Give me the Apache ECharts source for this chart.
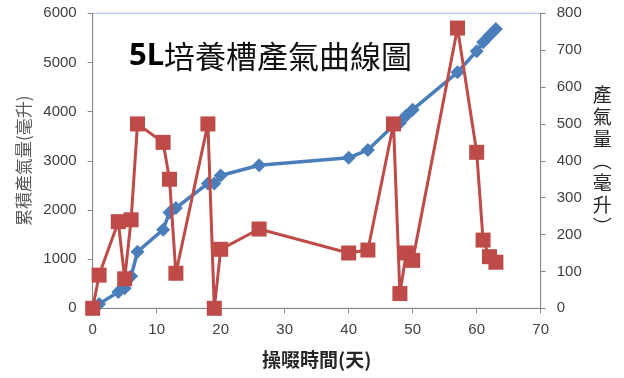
<!DOCTYPE html>
<html>
<head>
<meta charset="utf-8">
<script src="https://cdn.jsdelivr.net/npm/echarts@6/dist/echarts.min.js"></script>
<style>
html, body { margin: 0; padding: 0; background: #fff; }
#chart { width: 624px; height: 378px; }
</style>
</head>
<body>
<div id="chart"></div>
<script>
// Operating days (x axis)
const days = [0, 1, 4, 5, 6, 7, 11, 12, 13, 18, 19, 20, 26, 40, 43, 47, 48, 49, 50, 57, 60, 61, 62, 63];
// Cumulative gas volume (mL), left axis
const cumulativeGas = [0, 90, 330, 410, 650, 1150, 1600, 1950, 2040, 2540, 2540, 2700, 2910, 3060, 3220, 3720, 3770, 3920, 4040, 4800, 5230, 5410, 5550, 5680];
// Gas produced per measurement (mL), right axis
const gasOutput = [0, 90, 235, 80, 240, 500, 450, 350, 95, 500, 0, 160, 215, 150, 158, 500, 40, 150, 130, 760, 423, 185, 140, 125];

const xTicks = { min: 0, max: 70, interval: 10 };
const leftTicks = { min: 0, max: 6000, interval: 1000 };
const rightTicks = { min: 0, max: 800, interval: 100 };

const pairs = (xs, ys) => xs.map((x, i) => [x, ys[i]]);
const plain = v => String(v);

const axisGrey = '#868686';
const labelStyle = { color: '#404040', fontSize: 15, fontFamily: 'Liberation Sans, Arial, sans-serif', formatter: plain };
const cjk = '"Noto Sans CJK TC", "Noto Sans CJK SC", sans-serif';

const chart = echarts.init(document.getElementById('chart'), null, { renderer: 'canvas' });
chart.setOption({
  animation: false,
  backgroundColor: '#ffffff',
  title: {
    text: '{a|5L}{b|培養槽產氣曲線圖}',
    left: 124,
    top: 36,
    textStyle: {
      rich: {
        a: { fontFamily: '"Noto Sans", sans-serif', fontWeight: 'bold', fontSize: 31, color: '#000' },
        b: { fontFamily: cjk, fontWeight: 'normal', fontSize: 31, color: '#111' }
      }
    }
  },
  grid: {
    left: 92.7, right: 83.3, top: 13.3, bottom: 69.7,
    show: true, borderColor: '#9BB7DA', borderWidth: 1, backgroundColor: 'transparent'
  },
  xAxis: {
    type: 'value',
    min: xTicks.min, max: xTicks.max, interval: xTicks.interval,
    name: '操啜時間(天)',
    nameLocation: 'middle',
    nameGap: 42,
    nameTextStyle: { fontFamily: cjk, fontSize: 19, fontWeight: 'bold', color: '#262626' },
    axisLine: { show: true, onZero: false, lineStyle: { color: axisGrey, width: 1 } },
    axisTick: { show: true, length: 5, lineStyle: { color: axisGrey } },
    axisLabel: Object.assign({ margin: 14 }, labelStyle),
    splitLine: { show: false }
  },
  yAxis: [
    {
      type: 'value',
      position: 'left',
      min: leftTicks.min, max: leftTicks.max, interval: leftTicks.interval,
      name: '累積產氣量(毫升)',
      nameLocation: 'middle',
      nameRotate: 90,
      nameGap: 57,
      nameTextStyle: { fontFamily: cjk, fontSize: 17, color: '#595959' },
      axisLine: { show: true, lineStyle: { color: axisGrey, width: 1 } },
      axisTick: { show: true, length: 5, lineStyle: { color: axisGrey } },
      axisLabel: Object.assign({ margin: 16 }, labelStyle),
      splitLine: { show: false }
    },
    {
      type: 'value',
      position: 'right',
      min: rightTicks.min, max: rightTicks.max, interval: rightTicks.interval,
      name: '產\n氣\n量\n︵\n毫\n升\n︶',
      nameLocation: 'middle',
      nameRotate: 0,
      nameGap: 52,
      nameTextStyle: { fontFamily: cjk, fontSize: 19, lineHeight: 22, color: '#262626', align: 'left' },
      axisLine: { show: true, lineStyle: { color: axisGrey, width: 1 } },
      axisTick: { show: true, length: 5, lineStyle: { color: axisGrey } },
      axisLabel: Object.assign({ margin: 16 }, labelStyle),
      splitLine: { show: false }
    }
  ],
  series: [
    {
      name: '累積產氣量',
      type: 'line',
      yAxisIndex: 0,
      data: pairs(days, cumulativeGas),
      clip: false,
      symbol: 'diamond',
      symbolSize: 14,
      lineStyle: { color: '#4A7EBB', width: 3.5 },
      itemStyle: { color: '#4A7EBB' },
      z: 2
    },
    {
      name: '產氣量',
      type: 'line',
      yAxisIndex: 1,
      data: pairs(days, gasOutput),
      clip: false,
      symbol: 'rect',
      symbolSize: 15,
      lineStyle: { color: '#BE4B48', width: 3 },
      itemStyle: { color: '#BE4B48' },
      z: 3
    }
  ]
});
</script>
</body>
</html>
